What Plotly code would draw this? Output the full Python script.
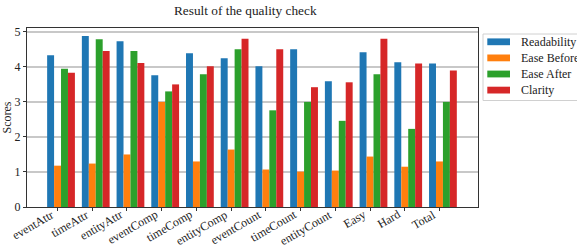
import plotly.graph_objects as go

categories = ["eventAttr", "timeAttr", "entityAttr", "eventComp", "timeComp", "entityComp",
              "eventCount", "timeCount", "entityCount", "Easy", "Hard", "Total"]
readability = [4.33, 4.88, 4.73, 3.76, 4.39, 4.25, 4.02, 4.50, 3.59, 4.42, 4.13, 4.10]
ease_before = [1.18, 1.24, 1.50, 3.00, 1.30, 1.64, 1.07, 1.01, 1.04, 1.44, 1.15, 1.30]
ease_after = [3.95, 4.79, 4.45, 3.30, 3.79, 4.50, 2.76, 3.00, 2.46, 3.79, 2.23, 3.00]
clarity = [3.83, 4.45, 4.11, 3.50, 4.02, 4.80, 4.50, 3.42, 3.56, 4.80, 4.10, 3.90]

series_names = ["Readability", "Ease Before", "Ease After", "Clarity"]
series_values = [readability, ease_before, ease_after, clarity]
colors = ["#1f77b4", "#ff7f0e", "#2ca02c", "#d62728"]

FONT = "'Liberation Serif', 'Times New Roman', serif"
TXT = "#222222"
W, H = 577, 247
L, T = 27, 28
pw, ph = 451, 179
R = W - L - pw
B = H - T - ph

fig = go.Figure()
bar_w = 0.2
for i, (name, vals, col) in enumerate(zip(series_names, series_values, colors)):
    fig.add_trace(go.Bar(x=categories, y=vals, name=name, marker_color=col,
                         marker_line_width=0, width=bar_w, offset=(i - 1) * bar_w - bar_w / 2,
                         showlegend=False))

# helpers: page pixel -> paper coordinates
def px_x(x):
    return (x - L) / pw

def px_y(y):
    return (T + ph - y) / ph

shapes = [dict(type="rect", xref="paper", yref="paper",
               x0=px_x(483), x1=px_x(600), y0=px_y(100.5), y1=px_y(34),
               line=dict(color="#d0d0d0", width=1), fillcolor="white", layer="above")]
annotations = []
for k, (name, col) in enumerate(zip(series_names, colors)):
    yc = 41.8 + k * 16.1
    shapes.append(dict(type="rect", xref="paper", yref="paper",
                       x0=px_x(487.3), x1=px_x(510), y0=px_y(yc + 3.4), y1=px_y(yc - 3.4),
                       line=dict(width=0), fillcolor=col, layer="above"))
    annotations.append(dict(text=name, xref="paper", yref="paper", x=px_x(518.5), y=px_y(yc),
                            xanchor="left", yanchor="middle", showarrow=False,
                            font=dict(family=FONT, size=12, color=TXT)))

# rotated category labels
for c in categories:
    annotations.append(dict(text=c, xref="x", yref="paper", x=c, y=px_y(204.5),
                            xanchor="right", yanchor="top", textangle=-30, showarrow=False,
                            xshift=1, font=dict(family=FONT, size=12, color=TXT)))

annotations.append(dict(text="Result of the quality check", xref="paper", yref="paper",
                        x=px_x(245), y=px_y(10), xanchor="center", yanchor="middle",
                        showarrow=False, font=dict(family=FONT, size=13.3, color=TXT)))

fig.update_layout(
    width=W, height=H,
    margin=dict(l=L, r=R, t=T, b=B, autoexpand=False),
    plot_bgcolor="white", paper_bgcolor="white",
    barmode="overlay",
    font=dict(family=FONT, size=12, color=TXT),
    shapes=shapes, annotations=annotations, showlegend=False,
    xaxis=dict(range=[-0.88, 12.11], showticklabels=False, showline=True, linecolor="#333",
               linewidth=1.2, mirror=True, ticks="outside", ticklen=3, tickcolor="#333",
               showgrid=False),
    yaxis=dict(range=[0, 5.11], tickvals=[0, 1, 2, 3, 4, 5], showline=True, linecolor="#333",
               linewidth=1.2, mirror=True, ticks="outside", ticklen=3, tickcolor="#333",
               showgrid=True, gridcolor="#c8c8c8", gridwidth=1.5, zeroline=False,
               title=dict(text="Scores", font=dict(family=FONT, size=12, color=TXT), standoff=3),
               tickfont=dict(family=FONT, size=12, color=TXT)),
)

fig.write_html("out.html", config={"displayModeBar": False},
               post_script="document.body.style.margin='0';document.body.style.padding='0';")
